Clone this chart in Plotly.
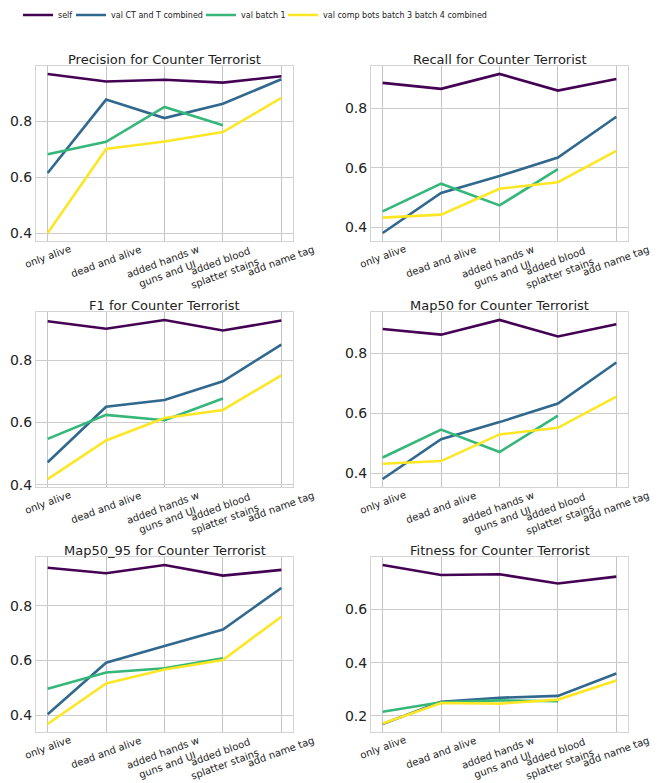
import plotly.graph_objects as go
from plotly.subplots import make_subplots

categories = ["only alive", "dead and alive", "added hands w<br>guns and UI",
              "added blood<br>splatter stains", "add name tag"]

series_names = ["self", "val CT and T combined", "val batch 1",
                "val comp bots batch 3 batch 4 combined"]
series_colors = ["#440154", "#31688e", "#35b779", "#fde725"]

titles = ["Precision for Counter Terrorist", "Recall for Counter Terrorist",
          "F1 for Counter Terrorist", "Map50 for Counter Terrorist",
          "Map50_95 for Counter Terrorist", "Fitness for Counter Terrorist"]

N = None
precision_self = [0.970, 0.943, 0.949, 0.939, 0.962]
precision_ctt = [0.615, 0.878, 0.812, 0.863, 0.951]
precision_b1 = [0.682, 0.727, 0.852, 0.786, N]
precision_comp = [0.400, 0.701, 0.728, 0.762, 0.884]

recall_self = [0.886, 0.866, 0.916, 0.860, 0.899]
recall_ctt = [0.381, 0.516, 0.573, 0.635, 0.772]
recall_b1 = [0.454, 0.547, 0.474, 0.596, N]
recall_comp = [0.433, 0.443, 0.530, 0.552, 0.657]

f1_self = [0.925, 0.901, 0.929, 0.895, 0.927]
f1_ctt = [0.472, 0.650, 0.672, 0.732, 0.850]
f1_b1 = [0.547, 0.624, 0.607, 0.677, N]
f1_comp = [0.418, 0.542, 0.614, 0.640, 0.751]

map50_self = [0.882, 0.863, 0.912, 0.857, 0.898]
map50_ctt = [0.381, 0.514, 0.571, 0.633, 0.770]
map50_b1 = [0.453, 0.546, 0.471, 0.593, N]
map50_comp = [0.432, 0.441, 0.530, 0.552, 0.656]

map5095_self = [0.939, 0.919, 0.949, 0.910, 0.931]
map5095_ctt = [0.404, 0.592, 0.653, 0.713, 0.865]
map5095_b1 = [0.497, 0.556, 0.572, 0.608, N]
map5095_comp = [0.368, 0.516, 0.567, 0.602, 0.760]

fitness_self = [0.768, 0.730, 0.733, 0.698, 0.724]
fitness_ctt = [0.169, 0.253, 0.268, 0.275, 0.359]
fitness_b1 = [0.215, 0.251, 0.258, 0.255, N]
fitness_comp = [0.171, 0.248, 0.246, 0.261, 0.333]

panels = [
    [precision_self, precision_ctt, precision_b1, precision_comp],
    [recall_self, recall_ctt, recall_b1, recall_comp],
    [f1_self, f1_ctt, f1_b1, f1_comp],
    [map50_self, map50_ctt, map50_b1, map50_comp],
    [map5095_self, map5095_ctt, map5095_b1, map5095_comp],
    [fitness_self, fitness_ctt, fitness_b1, fitness_comp],
]

W, H = 665, 783
col_px = [(36, 293), (371, 628)]
row_px = [(66, 241), (312, 487), (557, 732)]
legend_px = [18, 71, 201, 283]
legend_keys = ["legend", "legend2", "legend3", "legend4"]

fig = make_subplots(rows=3, cols=2, subplot_titles=titles)

for i, panel in enumerate(panels):
    r, c = i // 2 + 1, i % 2 + 1
    for j, vals in enumerate(panel):
        fig.add_trace(go.Scatter(
            x=list(range(len(categories))), y=vals, mode="lines", name=series_names[j],
            line=dict(color=series_colors[j], width=2.6),
            showlegend=(i == 0), legend=legend_keys[j]), row=r, col=c)
    allv = [v for s in panel for v in s if v is not None]
    lo, hi = min(allv), max(allv)
    pad = 0.05 * (hi - lo)
    x0, x1 = col_px[c - 1]
    y0, y1 = row_px[r - 1]
    fig.update_xaxes(domain=[x0 / W, x1 / W], range=[-0.2, 4.2],
                     tickvals=list(range(len(categories))), showticklabels=False,
                     showgrid=True, gridcolor="#c4c4c4", gridwidth=1.2, zeroline=False,
                     showline=True, mirror=True, linecolor="#d4d4d4", linewidth=1,
                     ticks="", automargin=False, row=r, col=c)
    fig.update_yaxes(domain=[1 - y1 / H, 1 - y0 / H], range=[lo - pad, hi + pad],
                     dtick=0.2, tick0=0, tickformat=".1f",
                     tickfont=dict(size=14, color="#222"),
                     showgrid=True, gridcolor="#cccccc", gridwidth=1.2, zeroline=False,
                     showline=True, mirror=True, linecolor="#d4d4d4", linewidth=1,
                     ticks="", automargin=False, row=r, col=c)
    xref = "x" if i == 0 else f"x{i + 1}"
    yref = "y domain" if i == 0 else f"y{i + 1} domain"
    for k, cat in enumerate(categories):
        fig.add_annotation(x=k, y=0, xref=xref, yref=yref, text=cat,
                           showarrow=False, textangle=-20, xanchor="center",
                           yanchor="top", yshift=0, align="center",
                           font=dict(size=10, color="#222"))

for k in range(6):
    ann = fig.layout.annotations[k]
    c = k % 2
    r = k // 2
    x0, x1 = col_px[c]
    ann.update(x=(x0 + x1) / 2 / W, y=1 - (row_px[r][0] - 7) / H,
               yanchor="middle", font=dict(size=13, color="#222"))

layout_legends = {}
for j, key in enumerate(legend_keys):
    layout_legends[key] = dict(orientation="h", x=legend_px[j] / W, xanchor="left",
                               y=1 - 15 / H, yanchor="middle", font=dict(size=8),
                               bgcolor="rgba(0,0,0,0)", borderwidth=0)

fig.update_layout(
    width=W, height=H,
    margin=dict(l=0, r=0, t=0, b=0, autoexpand=False),
    paper_bgcolor="white", plot_bgcolor="white",
    font=dict(family="DejaVu Sans", color="#222"),
    **layout_legends,
)

fig.write_html("out.html", config={"displayModeBar": False},
               post_script="document.body.style.margin='0';document.body.style.overflow='hidden';")
